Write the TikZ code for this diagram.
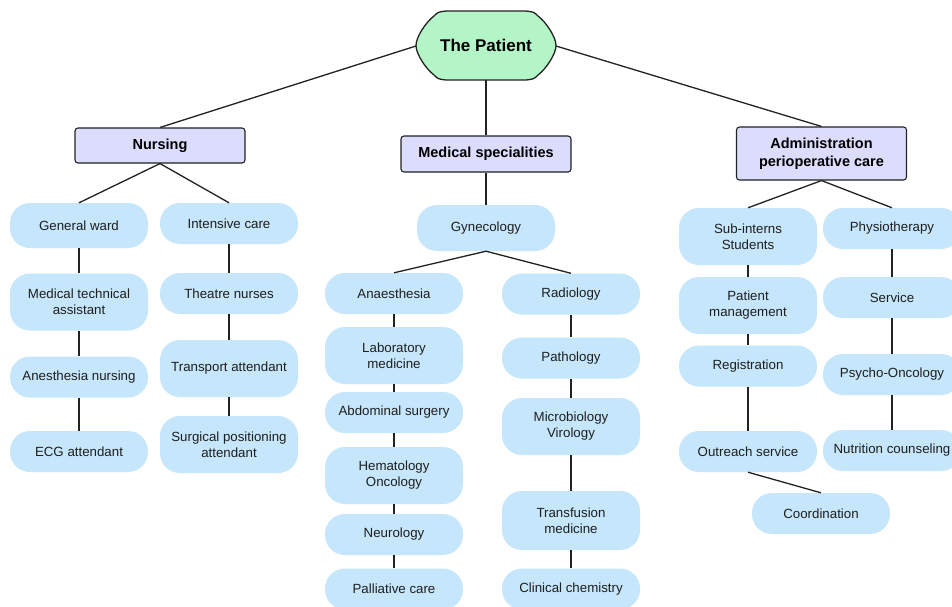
\documentclass[tikz,border=0pt]{standalone}
\usepackage{fontspec}
\setmainfont{Liberation Sans}
\definecolor{pillc}{HTML}{C5E6FB}
\definecolor{catc}{HTML}{DCDCFC}
\definecolor{patc}{HTML}{B3F5C6}
\definecolor{linec}{HTML}{222222}
\tikzset{
  pill/.style={fill=pillc, draw=none, rounded corners=20pt, minimum width=138pt, minimum height=41pt, inner sep=0pt, align=center, font=\fontsize{13.3}{16}\selectfont, text=black!88},
  tall/.style={pill, minimum height=57pt},
  cat/.style={fill=catc, draw=linec, line width=1.1pt, rounded corners=3pt, minimum width=170pt, inner sep=0pt, align=center, font=\fontsize{14.5}{18}\selectfont\bfseries},
  link/.style={draw=linec, line width=1.3pt}
}
\begin{document}
\begin{tikzpicture}[x=1pt,y=-1pt]
\useasboundingbox (0,0) rectangle (952,606);
\clip (0,0) rectangle (952,606);
\fill[white] (0,0) rectangle (952,606);
% root
\coordinate (pc) at (486,45.5);
\draw[fill=patc, draw=linec, line width=1.3pt]
  (416,45.5) .. controls (416,37) and (426,22) .. (434,16) .. controls (438,12) .. (446,11)
  -- (526,11) .. controls (534,12) .. (538,16) .. controls (546,22) and (556,37) .. (556,45.5)
  .. controls (556,54) and (546,69) .. (538,75) .. controls (534,79) .. (526,80)
  -- (446,80) .. controls (438,79) .. (434,75) .. controls (426,69) and (416,54) .. (416,45.5) -- cycle;
\node (root) at (pc) {\fontsize{17}{20}\selectfont\bfseries The Patient};
\coordinate (rootL) at (416,46);
\coordinate (rootR) at (556,46);
\coordinate (rootB) at (486,80);
% categories
\node[cat, minimum height=35pt] (nurs) at (160,145.5) {Nursing};
\node[cat, minimum height=36pt] (med) at (486,154) {Medical specialities};
\node[cat, minimum height=53pt] (adm) at (821.5,153.5) {Administration\\perioperative care};
% nursing
\node[pill, minimum height=45pt] (gw) at (79,225.5) {General ward};
\node[tall] (mta) at (79,302) {Medical technical\\assistant};
\node[pill] (an) at (79,377) {Anesthesia nursing};
\node[pill] (ecg) at (79,451.5) {ECG attendant};
\node[pill] (ic) at (229,223.5) {Intensive care};
\node[pill] (tn) at (229,293.5) {Theatre nurses};
\node[tall] (ta) at (229,368.5) {Transport attendant};
\node[tall] (spa) at (229,444.5) {Surgical positioning\\attendant};
% medical
\node[pill, minimum height=46pt] (gyn) at (486,228) {Gynecology};
\node[pill] (ana) at (394,293.5) {Anaesthesia};
\node[tall] (lab) at (394,355.5) {Laboratory\\medicine};
\node[pill] (abd) at (394,412.5) {Abdominal surgery};
\node[tall] (hem) at (394,475.5) {Hematology\\Oncology};
\node[pill] (neu) at (394,534.5) {Neurology};
\node[pill] (pal) at (394,589) {Palliative care};
\node[pill] (rad) at (571,294) {Radiology};
\node[pill] (pat) at (571,358) {Pathology};
\node[tall] (mic) at (571,426.5) {Microbiology\\Virology};
\node[tall, minimum height=59pt] (tra) at (571,520.5) {Transfusion\\medicine};
\node[pill] (cli) at (571,589) {Clinical chemistry};
% administration
\node[tall] (sub) at (748,236.5) {Sub-interns\\Students};
\node[tall] (pm) at (748,305.5) {Patient\\management};
\node[pill] (reg) at (748,366) {Registration};
\node[pill] (out) at (748,451.5) {Outreach service};
\node[pill] (phy) at (892,228.5) {Physiotherapy};
\node[pill] (ser) at (892,297.5) {Service};
\node[pill] (psy) at (892,374.5) {Psycho-Oncology};
\node[pill] (nut) at (892,450.5) {Nutrition counseling};
\node[pill] (coo) at (821,513.5) {Coordination};
% links
\draw[link] (rootL) -- (nurs.north);
\draw[link] (rootB) -- (med.north);
\draw[link] (rootR) -- (adm.north);
\draw[link] (nurs.south) -- (gw.north);
\draw[link] (nurs.south) -- (ic.north);
\draw[link] (gw) -- (mta);
\draw[link] (mta) -- (an);
\draw[link] (an) -- (ecg);
\draw[link] (ic) -- (tn);
\draw[link] (tn) -- (ta);
\draw[link] (ta) -- (spa);
\draw[link] (med) -- (gyn);
\draw[link] (gyn.south) -- (ana.north);
\draw[link] (gyn.south) -- (rad.north);
\draw[link] (ana) -- (lab);
\draw[link] (lab) -- (abd);
\draw[link] (abd) -- (hem);
\draw[link] (hem) -- (neu);
\draw[link] (neu) -- (pal);
\draw[link] (rad) -- (pat);
\draw[link] (pat) -- (mic);
\draw[link] (mic) -- (tra);
\draw[link] (tra) -- (cli);
\draw[link] (adm.south) -- (sub.north);
\draw[link] (adm.south) -- (phy.north);
\draw[link] (sub) -- (pm);
\draw[link] (pm) -- (reg);
\draw[link] (reg) -- (out);
\draw[link] (phy) -- (ser);
\draw[link] (ser) -- (psy);
\draw[link] (psy) -- (nut);
\draw[link] (out.south) -- (coo.north);
\end{tikzpicture}
\end{document}
